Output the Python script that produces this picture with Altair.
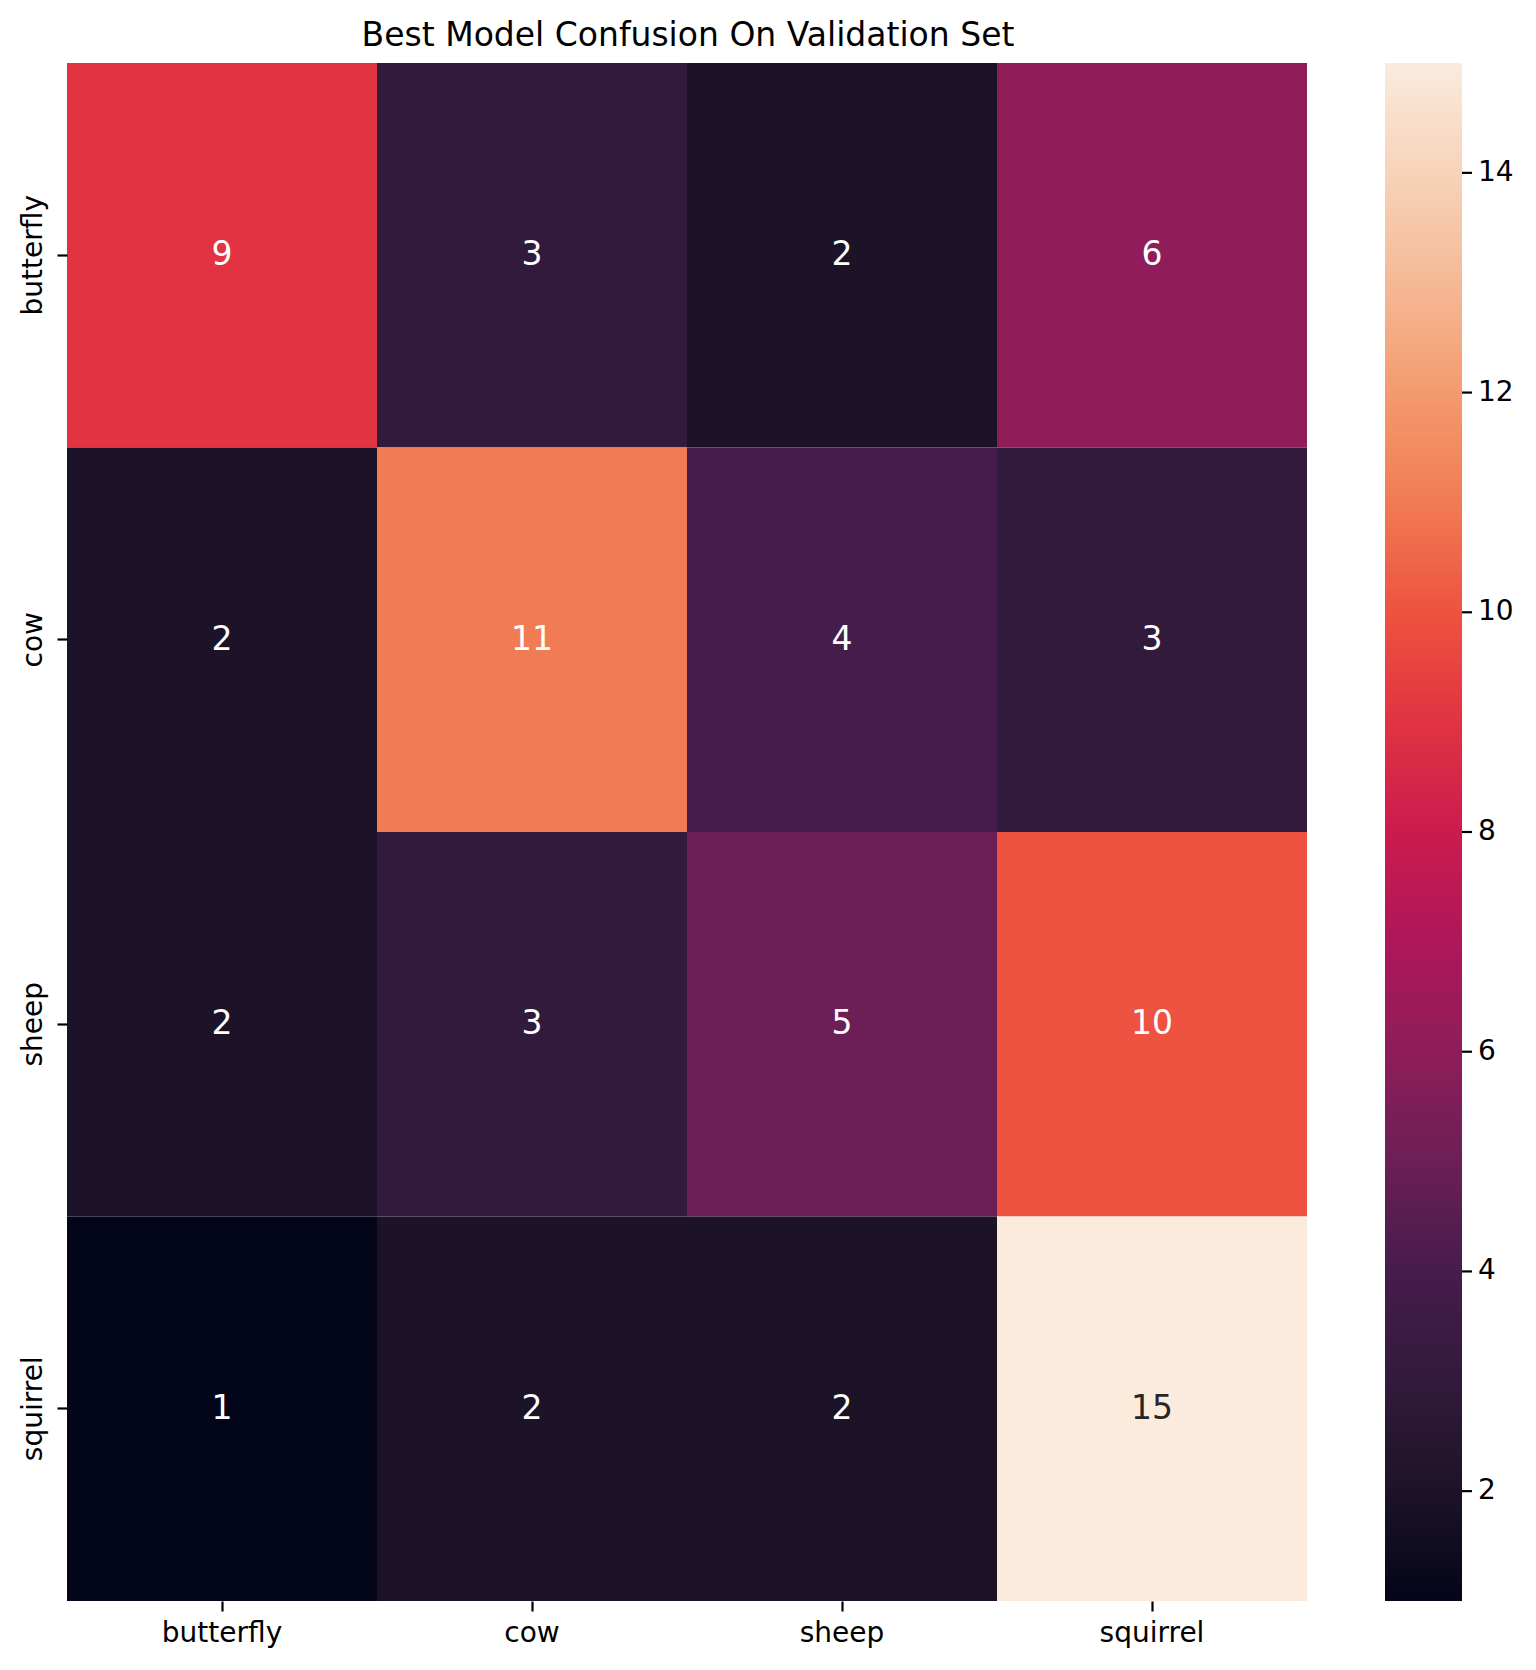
import altair as alt
import pandas as pd

title_text = "Best Model Confusion On Validation Set"
classes = ["butterfly", "cow", "sheep", "squirrel"]
row_butterfly = [9, 3, 2, 6]
row_cow = [2, 11, 4, 3]
row_sheep = [2, 3, 5, 10]
row_squirrel = [1, 2, 2, 15]

# approximate "rocket" colormap sampled at values 1..15
color_domain = list(range(1, 16))
color_range = [
    "#03051a", "#1d1328", "#321a3c", "#461c4b", "#6c1f56",
    "#8e1d5a", "#ae1759", "#cb1b4f", "#e13342", "#ed5340",
    "#f17b53", "#f39b6e", "#f5b995", "#f7d3b9", "#faebdd",
]
legend_values = [2, 4, 6, 8, 10, 12, 14]

rows = [row_butterfly, row_cow, row_sheep, row_squirrel]
records = []
for i, true_c in enumerate(classes):
    for j, pred_c in enumerate(classes):
        records.append({"true": true_c, "pred": pred_c, "value": rows[i][j]})
df = pd.DataFrame(records)
ticks_df = pd.DataFrame({"v": legend_values})
title_df = pd.DataFrame({"t": [title_text]})

FONT = "DejaVu Sans"
W, H = 1240, 1538
CB_LEFT = 1318  # colorbar left edge relative to plot origin
CB_W = 77

base = alt.Chart(df)

rect = base.mark_rect().encode(
    x=alt.X("pred:N", sort=classes, title=None,
            scale=alt.Scale(paddingInner=0, paddingOuter=0),
            axis=alt.Axis(labelAngle=0, labelPadding=8)),
    y=alt.Y("true:N", sort=classes, title=None,
            scale=alt.Scale(paddingInner=0, paddingOuter=0),
            axis=alt.Axis(labelAngle=270, labelAlign="center",
                          labelBaseline="bottom", labelPadding=10)),
    color=alt.Color("value:Q",
                    scale=alt.Scale(domain=color_domain, range=color_range,
                                    interpolate="rgb"),
                    legend=alt.Legend(type="gradient", title=None, orient="none",
                                      legendX=CB_LEFT, legendY=0,
                                      direction="vertical",
                                      gradientLength=H, gradientThickness=CB_W,
                                      gradientStrokeWidth=0,
                                      values=legend_values, format="d",
                                      labelFontSize=28, labelFont=FONT,
                                      labelColor="black", labelOffset=16,
                                      labelOverlap=False, padding=0)),
)

text = base.mark_text(fontSize=33, font=FONT, baseline="middle", align="center").encode(
    x=alt.X("pred:N", sort=classes),
    y=alt.Y("true:N", sort=classes),
    text=alt.Text("value:Q"),
    color=alt.condition(alt.datum.value > 12, alt.value("#262626"), alt.value("#ffffff")),
)

heat = alt.layer(rect, text)

cb_ticks = alt.Chart(ticks_df).mark_rule(color="black", strokeWidth=2.2).encode(
    y=alt.Y("v:Q", scale=alt.Scale(domain=[1, 15], range=[H, 0], nice=False, zero=False),
            axis=None),
    x=alt.value(CB_LEFT + CB_W),
    x2=alt.value(CB_LEFT + CB_W + 10),
)

title_mark = alt.Chart(title_df).mark_text(
    fontSize=33, font=FONT, color="black", align="center", baseline="alphabetic"
).encode(
    text="t:N",
    x=alt.value(621),
    y=alt.value(-17),
)

chart = (
    alt.layer(heat, cb_ticks, title_mark)
    .resolve_scale(y="independent")
    .properties(
        width=W, height=H,
        autosize=alt.AutoSizeParams(type="none"),
        padding={"left": 59, "top": 55, "right": 221, "bottom": 61},
    )
    .configure_view(stroke=None)
    .configure_axis(domain=False, tickSize=10, tickWidth=2.2, tickColor="black",
                    labelColor="black", labelFontSize=28, labelFont=FONT)
    .configure_scale(bandPaddingInner=0, bandPaddingOuter=0)
)

chart.save("out.html", embed_options={"renderer": "svg", "actions": False})
